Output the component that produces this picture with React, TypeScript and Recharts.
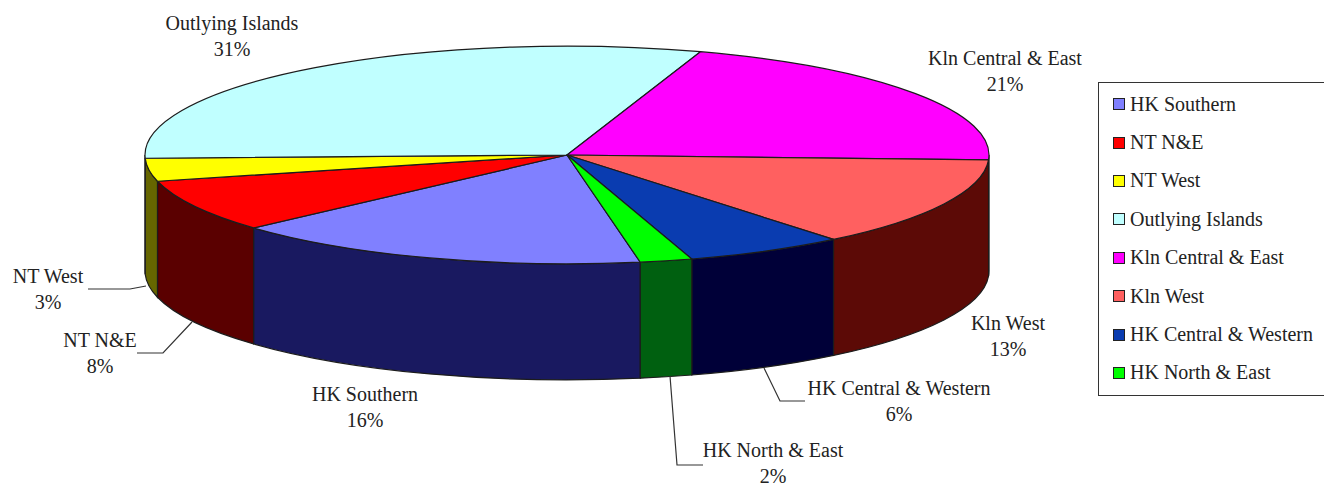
import React from "react";
import { PieChart, Pie, Legend } from "recharts";

const districts = [
  "HK Southern",
  "NT N&E",
  "NT West",
  "Outlying Islands",
  "Kln Central & East",
  "Kln West",
  "HK Central & Western",
  "HK North & East",
];
const shares = [16.1, 7.8, 3.4, 30.6, 20.6, 13.4, 6.1, 2];
const topColors = ["#8080ff", "#ff0000", "#ffff00", "#c0ffff", "#ff00ff", "#ff6060", "#0a3cb0", "#00ff00"];
const wallColors = ["#191960", "#5a0000", "#666600", "#608080", "#800080", "#5c0a06", "#000038", "#006010"];

// label centre x, name baseline y, then leader line points (if any)
const labelSpots: { x: number; y: number; line?: string }[] = [
  { x: 365, y: 401 },
  { x: 100, y: 347, line: "137,353 163,353 192,322" },
  { x: 48, y: 283, line: "88,289 130,289 146,286" },
  { x: 232, y: 30 },
  { x: 1005, y: 65 },
  { x: 1008, y: 330 },
  { x: 899, y: 395, line: "805,401 780,401 764,368" },
  { x: 773, y: 457, line: "703,465 677,465 670,376" },
];

const tableData = districts.map((name, i) => ({
  name,
  value: shares[i],
  fill: topColors[i],
  wall: wallColors[i],
}));

const WIDTH = 1324;
const HEIGHT = 484;
const FONT = "'Liberation Serif', 'Times New Roman', serif";
const FONT_SIZE = 20;
const SQUASH = 0.258; // ellipse height / width of the tilted pie
const DEPTH = 116;
const EDGE = "#1c1c1c";

// The library hands over the angles, this bends them into a tilted slice with a wall
function TiltedSlice(props: any) {
  const { cx, cy, outerRadius, startAngle, endAngle, fill, payload } = props;
  const rx = outerRadius;
  const ry = outerRadius * SQUASH;
  const px = (a: number) => cx + rx * Math.cos((a * Math.PI) / 180);
  const py = (a: number) => cy - ry * Math.sin((a * Math.PI) / 180);
  const hi = Math.max(startAngle, endAngle);
  const lo = Math.min(startAngle, endAngle);
  const large = hi - lo > 180 ? 1 : 0;

  const top = `M${cx},${cy} L${px(hi)},${py(hi)} A${rx},${ry} 0 ${large} 1 ${px(lo)},${py(lo)} Z`;

  // only the front half of the rim has a visible wall
  const walls: string[] = [];
  for (const shift of [0, -360]) {
    const a1 = Math.min(hi, shift);
    const a2 = Math.max(lo, shift - 180);
    if (a1 > a2) {
      walls.push(
        `M${px(a1)},${py(a1)} A${rx},${ry} 0 0 1 ${px(a2)},${py(a2)} L${px(a2)},${py(a2) + DEPTH} ` +
          `A${rx},${ry} 0 0 0 ${px(a1)},${py(a1) + DEPTH} Z`
      );
    }
  }

  return (
    <g>
      {walls.map((d, i) => (
        <path key={i} d={d} fill={payload.wall} stroke={EDGE} strokeWidth={1.2} />
      ))}
      <path d={top} fill={fill} stroke={EDGE} strokeWidth={1.2} strokeLinejoin="round" />
    </g>
  );
}

function SliceLabel(props: any) {
  const { index, name, value } = props;
  const spot = labelSpots[index];
  return (
    <g fontFamily={FONT} fontSize={FONT_SIZE} fill="#222">
      {spot.line && <polyline points={spot.line} fill="none" stroke="#333" strokeWidth={1.2} />}
      <text x={spot.x} y={spot.y} textAnchor="middle">
        {name}
      </text>
      <text x={spot.x} y={spot.y + 26} textAnchor="middle">
        {`${Math.round(value)}%`}
      </text>
    </g>
  );
}

function LegendBox(props: any) {
  const { payload } = props;
  return (
    <div
      style={{
        boxSizing: "border-box",
        width: 226,
        height: 314,
        border: "1.5px solid #333",
        borderRight: "none",
        background: "#fff",
        paddingTop: 2,
        fontFamily: FONT,
        fontSize: FONT_SIZE,
        color: "#222",
      }}
    >
      {(payload || []).map((entry: any) => (
        <div
          key={entry.value}
          style={{ height: 38.4, display: "flex", alignItems: "center", paddingLeft: 14, whiteSpace: "nowrap" }}
        >
          <span
            style={{
              boxSizing: "border-box",
              width: 12,
              height: 12,
              marginRight: 5,
              border: "1px solid #222",
              background: entry.color,
            }}
          />
          {entry.value}
        </div>
      ))}
    </div>
  );
}

export default function App() {
  return (
    <div style={{ position: "absolute", left: 0, top: 0, width: WIDTH, height: HEIGHT, background: "#fff" }}>
      <PieChart width={WIDTH} height={HEIGHT} margin={{ top: 0, right: 0, bottom: 0, left: 0 }}>
        <Pie
          data={tableData}
          dataKey="value"
          nameKey="name"
          cx={567}
          cy={155}
          innerRadius={0}
          outerRadius={422}
          startAngle={-80}
          endAngle={-440}
          shape={TiltedSlice}
          label={SliceLabel}
          labelLine={false}
          isAnimationActive={false}
        />
        <Legend
          content={LegendBox}
          layout="vertical"
          itemSorter={null}
          wrapperStyle={{ position: "absolute", left: 1098, top: 82, width: 226, height: 314 }}
        />
      </PieChart>
    </div>
  );
}
